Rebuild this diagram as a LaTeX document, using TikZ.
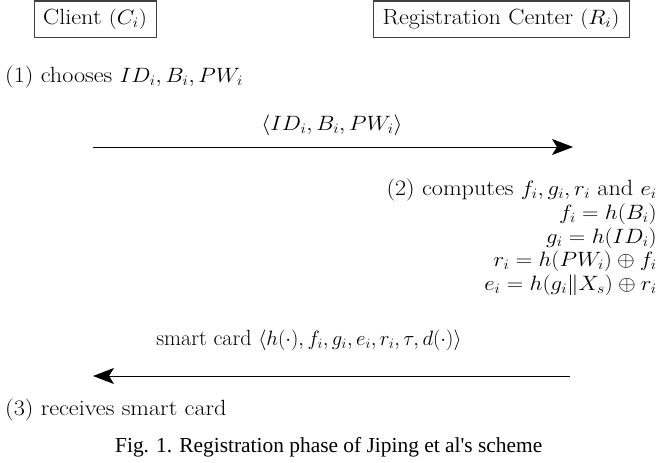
\documentclass[tikz,border=0pt]{standalone}
\usepackage{fontspec}
\usepackage{graphicx}
\newfontfamily\capfont{Liberation Serif}
\usetikzlibrary{arrows.meta}
% slightly widened lettering
\newcommand{\widetext}[1]{\scalebox{1.1}[1]{#1}}
\tikzset{
  txt/.style={inner sep=0pt, font=\fontsize{22}{26}\selectfont},
  party/.style={txt, draw=black!75, line width=1pt, minimum height=36pt},
  msg/.style={line width=0.9pt, -{Stealth[length=21pt,width=16pt,inset=5pt]}},
}
\begin{document}
\begin{tikzpicture}[x=1pt,y=-1pt]
\useasboundingbox (0,0) rectangle (659,463);

% the two parties
\node[party, minimum width=122pt] (client) at (95,19) {\widetext{Client $(C_i)$}};
\node[party, minimum width=256pt] (rc) at (501,19) {\widetext{Registration Center $(R_i)$}};

% step 1
\node[txt, anchor=base west] (s1) at (5,82) {\widetext{(1) chooses $ID_i, B_i, PW_i$}};

% first message
\coordinate (m1from) at (93,147);
\coordinate (m1to) at (573,147);
\node[txt] (m1lbl) at (332,125) {\widetext{$\langle ID_i, B_i, PW_i\rangle$}};
\draw[msg] (m1from) -- (m1to);

% step 2 computations
\node[txt, anchor=base east] (s2) at (657,195) {\widetext{(2) computes $f_i, g_i, r_i$ and $e_i$}};
\node[txt, anchor=base east] (c1) at (657,219) {\widetext{$f_i = h(B_i)$}};
\node[txt, anchor=base east] (c2) at (657,243) {\widetext{$g_i = h(ID_i)$}};
\node[txt, anchor=base east] (c3) at (657,266) {\widetext{$r_i = h(PW_i)\oplus f_i$}};
\node[txt, anchor=base east] (c4) at (657,290) {\widetext{$e_i = h(g_i\|X_s)\oplus r_i$}};

% second message
\coordinate (m2from) at (570,376);
\coordinate (m2to) at (93,376);
\node[txt] (m2lbl) at (309,340) {smart card $\langle h(\cdot), f_i, g_i, e_i, r_i, \tau, d(\cdot)\rangle$};
\draw[msg] (m2from) -- (m2to);

% step 3
\node[txt, anchor=base west] (s3) at (5,415) {\widetext{(3) receives smart card}};

% caption
\node[inner sep=0pt, anchor=base west, font=\capfont\fontsize{21.4}{25}\selectfont] (cap) at (115,452) {Fig. 1. Registration phase of Jiping et al's scheme};
\end{tikzpicture}
\end{document}
